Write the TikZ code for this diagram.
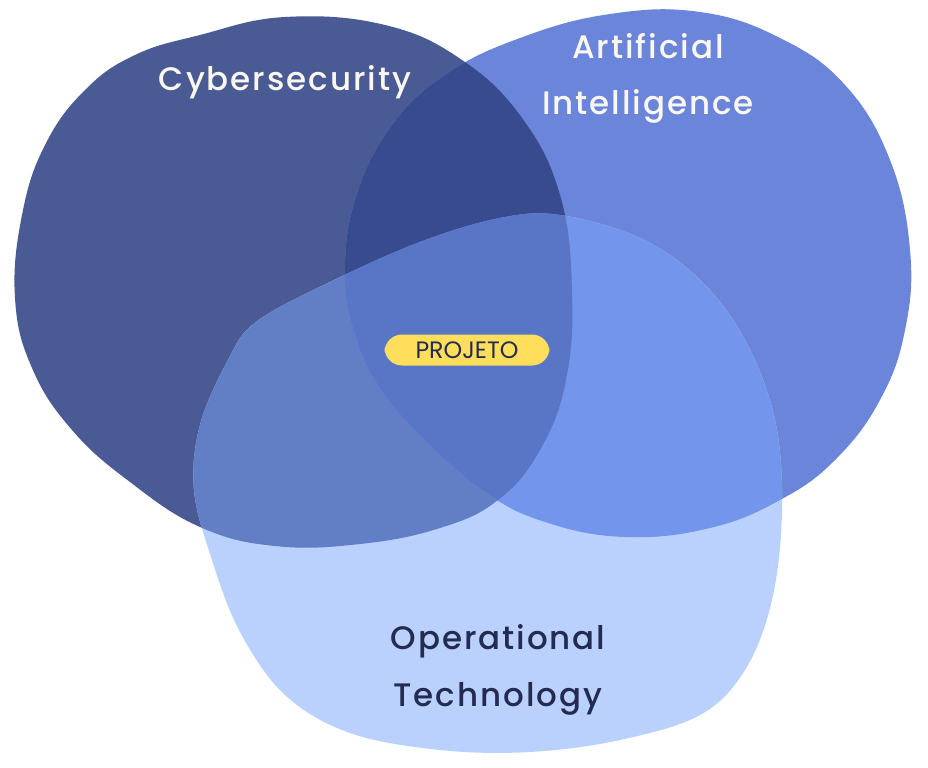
\documentclass[tikz,border=0pt]{standalone}
\usepackage{fontspec}
\usepackage{tikz}
\usetikzlibrary{positioning}
\newfontfamily\venfont[LetterSpace=6]{Poppins Medium}
\newfontfamily\tagfont{Poppins}
\definecolor{cybercol}{RGB}{74,90,148}
\definecolor{aicol}{RGB}{107,133,219}
\definecolor{otcol}{RGB}{186,209,254}
\definecolor{cyaicol}{RGB}{55,75,142}
\definecolor{cyotcol}{RGB}{98,127,198}
\definecolor{aiotcol}{RGB}{115,150,236}
\definecolor{allcol}{RGB}{88,117,198}
\definecolor{tagyellow}{RGB}{254,222,90}
\definecolor{inknavy}{RGB}{36,43,80}
\definecolor{chalk}{RGB}{250,247,240}
\tikzstyle{setlabel} = [font=\venfont\fontsize{18.5}{32}\selectfont, align=center]
\tikzstyle{tag} = [fill=tagyellow, rounded corners=10pt, minimum width=3.3cm, minimum height=0.62cm, text=inknavy, font=\tagfont\fontsize{13.5}{15}\selectfont]
\newcommand{\cyberblob}{plot[smooth cycle, tension=0.7] coordinates {(200,35) (285,17) (385,25) (462,60) (522,118) (560,195) (572,290) (566,380) (540,450) (498,500) (440,528) (360,544) (275,546) (200,527) (130,482) (72,430) (32,368) (15,298) (22,215) (45,145) (85,90) (135,55)}}
\newcommand{\aiblob}{plot[smooth cycle, tension=0.7] coordinates {(345,275) (355,200) (390,128) (445,75) (520,38) (610,14) (700,12) (780,38) (845,85) (890,160) (910,250) (905,330) (880,400) (835,460) (780,500) (710,528) (625,537) (545,522) (485,492) (425,440) (380,388) (355,335)}}
\newcommand{\otblob}{plot[smooth cycle, tension=0.6] coordinates {(256,322) (330,282) (420,242) (500,218) (560,215) (640,238) (700,280) (745,340) (775,420) (782,510) (772,600) (745,670) (700,715) (620,740) (530,752) (440,750) (350,733) (285,695) (240,632) (212,560) (194,490) (200,425) (228,360)}}
\begin{document}
\begin{tikzpicture}[x=0.02cm, y=-0.02cm]
\useasboundingbox[fill=white] (0,0) rectangle (928,767);
% the three sets
\fill[cybercol] \cyberblob;
\fill[aicol] \aiblob;
\fill[otcol] \otblob;
% overlaps
\begin{scope}
\clip \cyberblob;
\fill[cyaicol] \aiblob;
\end{scope}
\begin{scope}
\clip \cyberblob;
\fill[cyotcol] \otblob;
\end{scope}
\begin{scope}
\clip \aiblob;
\fill[aiotcol] \otblob;
\end{scope}
\begin{scope}
\clip \cyberblob;
\clip \aiblob;
\fill[allcol] \otblob;
\end{scope}
% labels
\node (cyber) [setlabel, text=chalk] at (285,82) {Cybersecurity};
\node (ai) [setlabel, text=chalk] at (648,78) {Artificial\\Intelligence};
\node (ot) [setlabel, text=inknavy] at (498,670) {Operational\\Technology};
\node (proj) [tag] at (467,350) {PROJETO};
\end{tikzpicture}
\end{document}
